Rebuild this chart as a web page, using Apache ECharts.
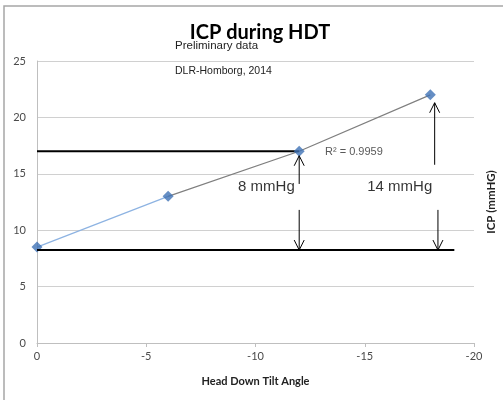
<!DOCTYPE html>
<html><head><meta charset="utf-8">
<script src="https://cdn.jsdelivr.net/npm/echarts@6/dist/echarts.min.js"></script>
<style>html,body{margin:0;padding:0;background:#fff}#c{width:503px;height:400px}</style>
</head><body><div id="c"></div>
<script>
// Data
const tiltAngles = [0, -6, -12, -18];
const icpValues = [8.5, 13.0, 17.0, 22.0];
const xTicks = [0, -5, -10, -15, -20];
const yTicks = [0, 5, 10, 15, 20, 25];
const baselineLevel = 8.24;
const baselineEnd = -19.1;
const midLevel = 17.0;
const midEnd = -12;
// arrows: [x, fromY, toY]
const arrows = [[-12, 14.1, 16.6], [-12, 11.8, 8.24], [-18.2, 15.8, 21.3], [-18.35, 11.8, 8.24]];
const annotations = [
  {text: '8 mmHg', x: -10.5, y: 13.8},
  {text: '14 mmHg', x: -16.6, y: 13.8}
];

const chart = echarts.init(document.getElementById('c'));
const pts = tiltAngles.map((x, i) => [x, icpValues[i]]);
const axisFont = {color: '#4a4a4a', fontSize: 11, fontFamily: 'Lato, "Liberation Sans", sans-serif'};

chart.setOption({
  backgroundColor: '#fff',
  animation: false,
  title: {
    text: 'ICP during HDT', left: 255, top: 18, textAlign: 'center',
    textStyle: {fontSize: 20, fontWeight: 'bold', color: '#000', fontFamily: 'Lato, "Open Sans", sans-serif'}
  },
  grid: {left: 37, right: 29, top: 61, bottom: 57},
  xAxis: {
    type: 'value', min: -20, max: 0, interval: 5, inverse: true,
    name: 'Head Down Tilt Angle', nameLocation: 'middle', nameGap: 33,
    nameTextStyle: {fontSize: 11, fontWeight: 'bold', color: '#222', fontFamily: 'Lato, sans-serif'},
    axisLine: {lineStyle: {color: '#bfbfbf'}},
    axisTick: {show: true, length: 4, lineStyle: {color: '#bfbfbf'}},
    axisLabel: Object.assign({margin: 8}, axisFont),
    splitLine: {show: false}
  },
  yAxis: {
    type: 'value', min: 0, max: 25, interval: 5,
    axisLine: {show: true, lineStyle: {color: '#bfbfbf'}},
    axisTick: {show: false},
    axisLabel: Object.assign({margin: 11}, axisFont),
    splitLine: {lineStyle: {color: '#d0d0d0'}}
  },
  graphic: [
    {type: 'rect', shape: {x: 4, y: 6, width: 520, height: 420}, style: {fill: 'none', stroke: '#a6a6a6', lineWidth: 1.5}, z: 0},
    {type: 'text', left: 175, top: 40, style: {text: 'Preliminary data', fontSize: 11.5, fill: '#222', fontFamily: '"Liberation Sans Narrow", "Liberation Sans", sans-serif'}},
    {type: 'text', left: 175, top: 66, style: {text: 'DLR-Homborg, 2014', fontSize: 10.5, fill: '#222', fontFamily: '"Liberation Sans Narrow", "Liberation Sans", sans-serif'}},
    {type: 'text', left: 325, top: 146, style: {text: 'R² = 0.9959', fontSize: 11, fill: '#595959', fontFamily: '"Liberation Sans Narrow", "Liberation Sans", sans-serif'}},
    {type: 'text', x: 491, y: 202, rotation: Math.PI / 2, style: {text: 'ICP (mmHG)', fontSize: 11.5, fontWeight: 'bold', fill: '#222', align: 'center', verticalAlign: 'middle', fontFamily: 'Lato, sans-serif'}}
  ],
  series: [
    {type: 'line', data: pts.slice(0, 2), symbol: 'none', lineStyle: {color: '#8db3e2', width: 1.2}, z: 2},
    {type: 'line', data: pts.slice(1), symbol: 'none', lineStyle: {color: '#7f7f7f', width: 1.2}, z: 2},
    {type: 'line', data: [[0, midLevel], [midEnd, midLevel]], symbol: 'none', lineStyle: {color: '#000', width: 2}, z: 3},
    {type: 'line', data: [[0, baselineLevel], [baselineEnd, baselineLevel]], symbol: 'none', lineStyle: {color: '#000', width: 2}, z: 5},
    {type: 'scatter', data: pts, symbol: 'diamond', symbolSize: 11, itemStyle: {color: '#3f72b5'}, z: 4},
    {
      type: 'custom', data: arrows, z: 6,
      renderItem: function (params, api) {
        const a = api.coord([api.value(0), api.value(1)]);
        const b = api.coord([api.value(0), api.value(2)]);
        const dir = b[1] < a[1] ? 1 : -1;
        return {type: 'group', children: [
          {type: 'line', shape: {x1: a[0], y1: a[1], x2: b[0], y2: b[1]}, style: {stroke: '#000', lineWidth: 1}},
          {type: 'polyline', shape: {points: [[b[0] - 5, b[1] + dir * 10], [b[0], b[1]], [b[0] + 5, b[1] + dir * 10]]}, style: {stroke: '#000', lineWidth: 1, fill: 'none'}}
        ]};
      }
    },
    {
      type: 'scatter', data: annotations.map(a => ({value: [a.x, a.y], name: a.text})),
      symbolSize: 0, z: 7,
      label: {show: true, position: 'inside', formatter: p => p.name, fontSize: 15, color: '#000', fontFamily: '"Liberation Sans", sans-serif'}
    }
  ]
});
</script></body></html>
